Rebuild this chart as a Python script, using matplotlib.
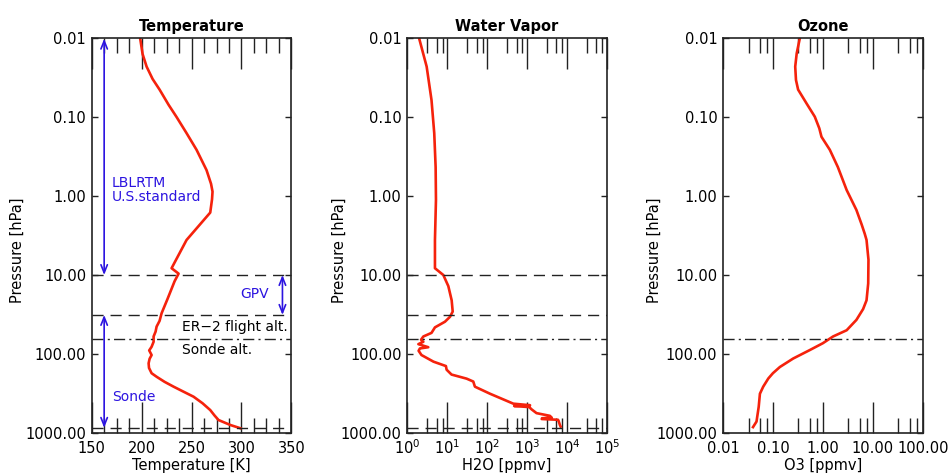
import numpy as np
import matplotlib
matplotlib.use('Agg')
import matplotlib.pyplot as plt
from matplotlib.ticker import FixedLocator, FuncFormatter, NullFormatter

# temperature profile (US standard above 10 hPa, GPV, sonde below)
temp_p = [0.01, 0.016, 0.023, 0.033, 0.045, 0.07, 0.1, 0.16, 0.26, 0.47, 0.7, 0.88, 1.1,
          1.62, 3.6, 8.2, 9.6, 12, 20, 30.5,
          38, 45, 52, 60, 70, 81, 90, 103, 115, 131, 150, 175, 194, 225, 259, 300, 347,
          420, 512, 600, 685, 793, 871]
temp_T = [198.5, 201, 205, 211, 218, 227, 235, 245, 255, 265, 269.5, 271, 270.5,
          268.7, 245, 230, 237, 233, 226, 220,
          218, 215, 214, 212, 212, 210, 207.6, 210, 208, 207, 207.4, 210, 215, 223, 232, 242, 252,
          261, 268.7, 273, 277, 289, 299]

# water vapor profile
h2o_p = [0.01, 0.023, 0.061, 0.16, 0.43, 1.12, 3.6, 8.2, 10, 13.8, 20.9, 29, 33.8, 39,
         46, 54, 60, 66, 70, 75, 82, 85, 91, 103, 125, 142, 158, 182, 205, 223, 259,
         318, 425, 445, 455, 470, 500, 560, 606, 640, 650, 665, 680, 700, 790, 830]
h2o_q = [2.0, 3.1, 4.1, 4.8, 5.2, 5.3, 5.0, 5.0, 8.1, 10.8, 13.1, 13.9, 11.9, 8.9,
         5.0, 4.1, 2.56, 2.24, 2.56, 1.92, 3.4, 2.1, 1.95, 2.3, 4.6, 9.4, 9.8, 13, 31, 45.5, 50,
         119, 457, 1200, 480, 1150, 1300, 1740, 3760, 4200, 2400, 2350, 6000, 6200, 6700, 7000]

# ozone profile
o3_p = [0.01, 0.0156, 0.023, 0.034, 0.045, 0.067, 0.099, 0.139, 0.178, 0.26, 0.43, 0.84,
        1.5, 2.3, 3.0, 3.6, 6.4, 12.8, 20.9, 27, 37, 50, 60, 73, 89, 114, 146, 175, 204, 259, 318,
        466, 716, 842]
o3_q = [0.347, 0.30, 0.28, 0.29, 0.32, 0.47, 0.69, 0.85, 0.94, 1.38, 2.0, 3.0,
        4.7, 6.0, 6.9, 7.5, 8.2, 8.1, 7.5, 6.4, 4.7, 3.0, 1.6, 1.0, 0.55, 0.255, 0.138, 0.1, 0.081,
        0.064, 0.055, 0.052, 0.047, 0.040]

dash_levels = [10, 32, 870]
dashdot_level = 65
p_ticks = [0.01, 0.1, 1, 10, 100, 1000]

red = '#f5220c'
blue = '#2c14e0'
ink = '#222222'

plt.rcParams['font.family'] = 'DejaVu Sans'
plt.rcParams['font.size'] = 10.5

fig = plt.figure(figsize=(9.49, 4.76), dpi=100)
lefts = [0.0966, 0.4289, 0.7618]
axes = [fig.add_axes([l, 0.0903, 0.2105, 0.8298]) for l in lefts]


def style(ax):
    ax.set_yscale('log')
    ax.set_ylim(1000, 0.01)
    ax.yaxis.set_major_locator(FixedLocator(p_ticks))
    ax.yaxis.set_minor_locator(FixedLocator([]))
    ax.yaxis.set_major_formatter(FuncFormatter(lambda v, pos: '%.2f' % v))
    ax.yaxis.set_minor_formatter(NullFormatter())
    ax.tick_params(axis='y', which='major', direction='in', length=4, width=1.0,
                   left=True, right=True, pad=4, colors=ink, labelcolor='black')
    ax.tick_params(axis='x', which='major', direction='in', length=22, width=1.0,
                   top=True, bottom=True, pad=6, colors=ink, labelcolor='black')
    ax.tick_params(axis='x', which='minor', direction='in', length=11, width=1.0,
                   top=True, bottom=True, colors=ink)
    for s in ax.spines.values():
        s.set_linewidth(1.2)
        s.set_color(ink)
    ax.set_ylabel('Pressure [hPa]')


def log_minor(lo, hi):
    out = []
    for e in range(lo, hi):
        a = 10.0 ** e
        out += [a + 9 * a * k / 4 for k in (1, 2, 3)]
    return out


# Temperature
ax = axes[0]
style(ax)
ax.plot(temp_T, temp_p, color=red, lw=1.9)
ax.set_xlim(150, 350)
ax.xaxis.set_major_locator(FixedLocator([150, 200, 250, 300, 350]))
ax.xaxis.set_minor_locator(FixedLocator(np.arange(150, 351, 12.5)))
for lev in dash_levels:
    ax.axhline(lev, color=ink, lw=1.0, ls=(0, (8, 5)))
ax.axhline(dashdot_level, color=ink, lw=1.0, ls=(0, (8, 3, 1.5, 3)))
arr = dict(arrowstyle='<->,head_length=0.55,head_width=0.22', color=blue, lw=1.2,
           shrinkA=0, shrinkB=0)
ax.annotate('', xy=(162.5, 0.0102), xytext=(162.5, 10), arrowprops=arr)
ax.annotate('', xy=(162.5, 32), xytext=(162.5, 860), arrowprops=arr)
ax.annotate('', xy=(341, 10), xytext=(341, 32), arrowprops=arr)
ax.text(170, 0.84, 'LBLRTM\nU.S.standard', color=blue, va='center', ha='left',
        fontsize=10, linespacing=0.95)
ax.text(313, 17.5, 'GPV', color=blue, va='center', ha='center', fontsize=10)
ax.text(170, 353, 'Sonde', color=blue, va='center', ha='left', fontsize=10)
ax.text(240, 45, 'ER\u22122 flight alt.', color='black', va='center', ha='left', fontsize=10)
ax.text(240, 89, 'Sonde alt.', color='black', va='center', ha='left', fontsize=10)
ax.set_title('Temperature', fontweight='bold', fontsize=10.5, pad=5)
ax.set_xlabel('Temperature [K]')
ax.xaxis.set_label_coords(0.5, -0.063)
ax.yaxis.set_label_coords(-0.335, 0.463)

# Water vapor
ax = axes[1]
style(ax)
ax.plot(h2o_q, h2o_p, color=red, lw=1.9)
ax.set_xscale('log')
ax.set_xlim(1, 1e5)
ax.xaxis.set_major_locator(FixedLocator([1, 10, 100, 1e3, 1e4, 1e5]))
ax.xaxis.set_minor_locator(FixedLocator(log_minor(0, 5)))
ax.xaxis.set_major_formatter(FuncFormatter(lambda v, pos: r'$10^{%d}$' % round(np.log10(v))))
ax.xaxis.set_minor_formatter(NullFormatter())
ax.tick_params(axis='x', which='major', pad=4)
for lev in dash_levels:
    ax.axhline(lev, color=ink, lw=1.0, ls=(0, (8, 5)))
ax.axhline(dashdot_level, color=ink, lw=1.0, ls=(0, (8, 3, 1.5, 3)))
ax.set_title('Water Vapor', fontweight='bold', fontsize=10.5, pad=5)
ax.set_xlabel('H2O [ppmv]')
ax.xaxis.set_label_coords(0.5, -0.063)
ax.yaxis.set_label_coords(-0.30, 0.463)

# Ozone
ax = axes[2]
style(ax)
ax.plot(o3_q, o3_p, color=red, lw=1.9)
ax.set_xscale('log')
ax.set_xlim(0.01, 100)
ax.xaxis.set_major_locator(FixedLocator([0.01, 0.1, 1, 10, 100]))
ax.xaxis.set_minor_locator(FixedLocator(log_minor(-2, 2)))
ax.xaxis.set_major_formatter(FuncFormatter(lambda v, pos: '%.2f' % v))
ax.xaxis.set_minor_formatter(NullFormatter())
ax.axhline(dashdot_level, color=ink, lw=1.0, ls=(0, (8, 3, 1.5, 3)))
ax.set_title('Ozone', fontweight='bold', fontsize=10.5, pad=5)
ax.set_xlabel('O3 [ppmv]')
ax.xaxis.set_label_coords(0.5, -0.063)
ax.yaxis.set_label_coords(-0.305, 0.463)

fig.savefig('out.png', dpi=100)
